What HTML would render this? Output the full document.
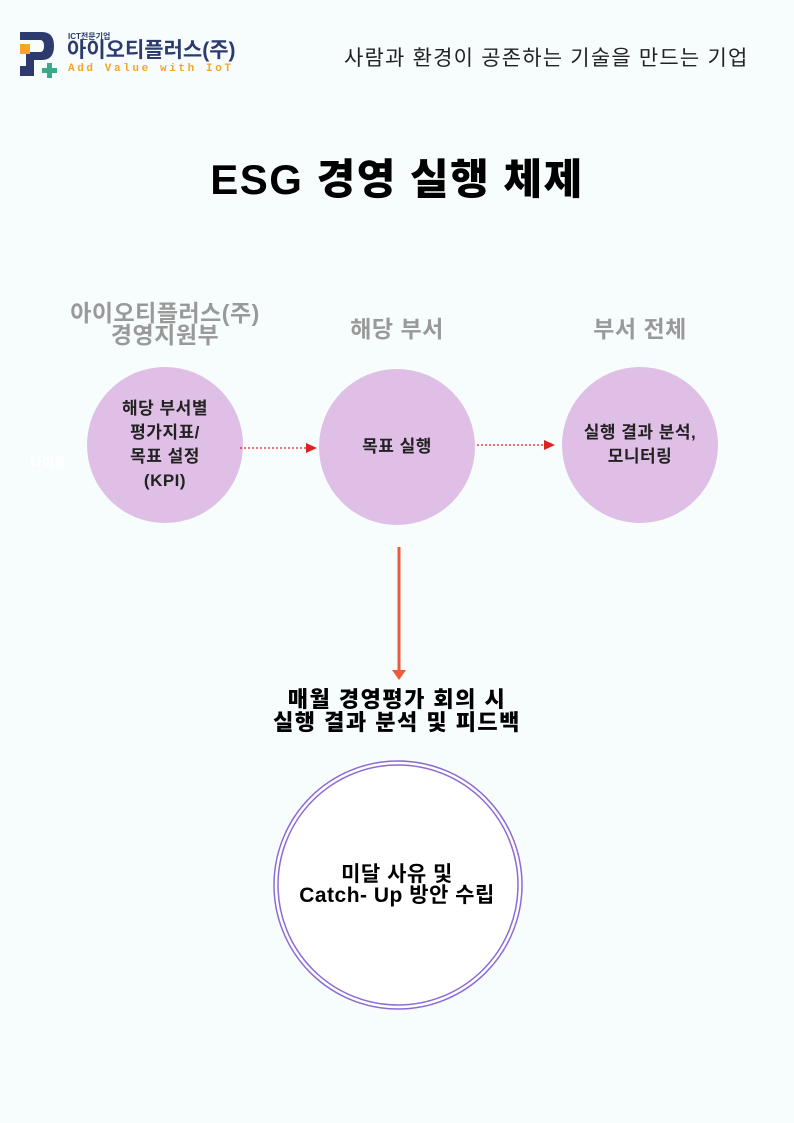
<!DOCTYPE html>
<html><head><meta charset="utf-8"><style>
*{margin:0;padding:0;box-sizing:border-box}
body{width:794px;height:1123px;background:#f7fcfd;position:relative;overflow:hidden;font-family:"Liberation Sans","Noto Sans CJK KR",sans-serif}
.a{position:absolute}
.c{position:absolute;border-radius:50%;background:#dfbfe5;display:flex;align-items:center;justify-content:center;text-align:center;font-size:17px;font-weight:bold;color:#222;line-height:24px;letter-spacing:0.5px}
.h{position:absolute;text-align:center;color:#999;font-weight:bold;font-size:23px;line-height:22px;letter-spacing:0.5px}
</style></head><body>
<svg class="a" style="left:16px;top:30px" width="44" height="52" viewBox="0 0 44 52">
<path d="M4 2 H26 Q38 2 38 16 Q38 30 26 30 H18 V46 H4 V36 H10 V22 H24 Q28 22 28 16 Q28 10 24 10 H4 Z" fill="#2d3a6e"/>
<rect x="4" y="14" width="10" height="10" fill="#f5a623"/>
<path d="M26 38 h5 v-5 h5 v5 h5 v5 h-5 v5 h-5 v-5 h-5z" fill="#3aaa8a"/>
</svg>
<div class="a" style="left:68px;top:31px;font-size:8px;font-weight:bold;color:#2d3a6e">ICT전문기업</div>
<div class="a" style="left:67px;top:40px;font-size:21px;font-weight:bold;color:#2d3a6e;line-height:22px">아이오티플러스(주)</div>
<div class="a" style="left:68px;top:63px;font-size:11px;font-weight:bold;color:#f5a623;letter-spacing:2.6px;font-family:'Liberation Mono',monospace">Add Value with IoT</div>
<div class="a" style="left:344px;top:42px;font-size:21px;color:#222;letter-spacing:1.2px">사람과 환경이 공존하는 기술을 만드는 기업</div>
<div class="a" style="left:0;width:794px;top:146px;text-align:center;font-size:42px;font-weight:900;color:#000;letter-spacing:1.5px">ESG 경영 실행 체제</div>
<div class="h" style="left:40px;width:250px;top:302px">아이오티플러스(주)<br>경영지원부</div>
<div class="h" style="left:297px;width:200px;top:318px">해당 부서</div>
<div class="h" style="left:540px;width:200px;top:318px">부서 전체</div>
<div class="a" style="left:30px;top:452px;font-size:13px;color:#fff;font-weight:bold">타이틀</div>
<div class="c" style="left:87px;top:367px;width:156px;height:156px">해당 부서별<br>평가지표/<br>목표 설정<br>(KPI)</div>
<div class="c" style="left:319px;top:369px;width:156px;height:156px">목표 실행</div>
<div class="c" style="left:562px;top:367px;width:156px;height:156px">실행 결과 분석,<br>모니터링</div>
<svg class="a" style="left:0;top:0" width="794" height="1123">
<line x1="240" y1="448" x2="308" y2="448" stroke="#d22" stroke-width="1.2" stroke-dasharray="2,2"/>
<polygon points="306,443 317,448 306,453" fill="#d22"/>
<line x1="477" y1="445" x2="545" y2="445" stroke="#d22" stroke-width="1.2" stroke-dasharray="2,2"/>
<polygon points="544,440 555,445 544,450" fill="#d22"/>
<line x1="399" y1="547" x2="399" y2="672" stroke="#f05a3c" stroke-width="3"/>
<polygon points="392,670 399,680 406,670" fill="#f05a3c"/>
<circle cx="398" cy="885" r="124" fill="#fff" stroke="#8d6bd6" stroke-width="1.5"/>
<circle cx="398" cy="885" r="120" fill="none" stroke="#8d6bd6" stroke-width="1.5"/>
</svg>
<div class="a" style="left:0;width:794px;top:688px;text-align:center;font-size:22px;font-weight:900;color:#000;line-height:23px;letter-spacing:1.5px">매월 경영평가 회의 시<br>실행 결과 분석 및 피드백</div>
<div class="a" style="left:0;width:794px;top:864px;text-align:center;font-size:21px;font-weight:bold;color:#000;line-height:21px;letter-spacing:0.5px">미달 사유 및<br>Catch- Up 방안 수립</div>
</body></html>
